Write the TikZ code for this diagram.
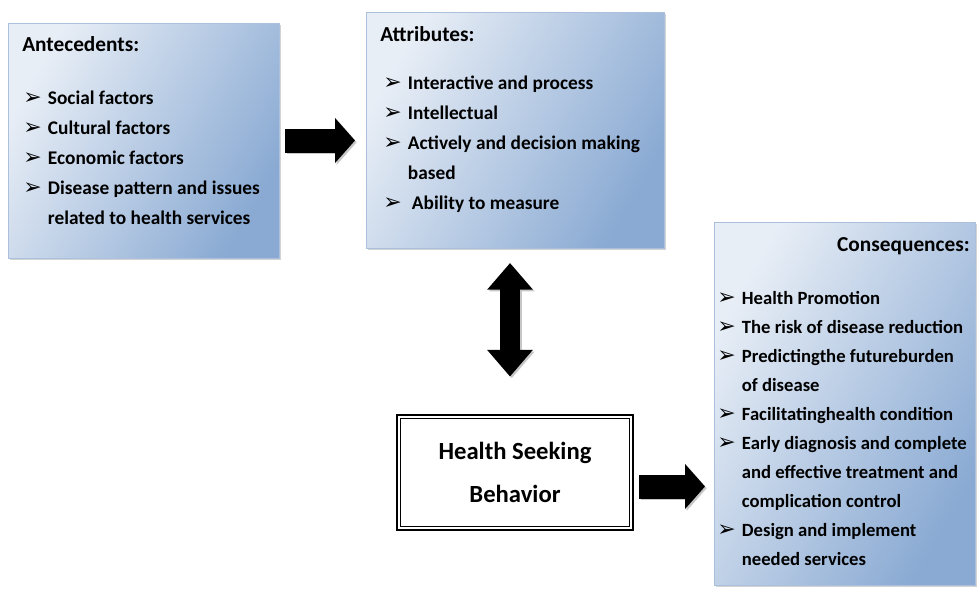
\documentclass[tikz,border=0pt]{standalone}
\usepackage{fontspec}
\setmainfont{Carlito}
\newfontfamily\dingfont{DejaVu Sans}
\usetikzlibrary{positioning,arrows.meta,shadows}

\definecolor{boxlight}{RGB}{232,238,246}
\definecolor{boxdark}{RGB}{138,170,211}
\definecolor{boxedge}{RGB}{170,192,220}

\newcommand{\bul}{{\dingfont\bfseries\fontsize{16.5}{12}\selectfont\char"27A2}}
\newcommand{\itm}{\makebox[18.5pt][l]{\bul}}
\newcommand{\cnt}{\hspace*{18.5pt}}

\begin{document}
\begin{tikzpicture}[x=0.75pt, y=-0.75pt,
    bluebox/.style={draw=boxedge, left color=boxlight, right color=boxdark, shading angle=60,
      drop shadow={shadow xshift=1.2pt, shadow yshift=-1.2pt, opacity=0.35},
      anchor=north west, inner sep=0, outer sep=0},
    head/.style={inner sep=0, font=\fontsize{16}{22.5}\selectfont\bfseries},
    list/.style={align=left, inner sep=0, anchor=north west, font=\fontsize{14.5}{22.5}\selectfont\bfseries},
    fatarrow/.style={line width=18pt, -{Triangle[length=15pt, width=33pt]}},
    bothway/.style={line width=15pt, {Triangle[length=20pt, width=33pt]}-{Triangle[length=20pt, width=33pt]}},
    arrowshadow/.style={draw=black!22, transform canvas={xshift=1.3pt, yshift=-1.3pt}}]
  \useasboundingbox (0,0) rectangle (980,597);

  % Boxes
  \node[bluebox, minimum width=203.25pt, minimum height=176.25pt] (ante) at (8,23) {};
  \node[bluebox, minimum width=223.5pt, minimum height=177pt] (attr) at (366,12) {};
  \node[bluebox, minimum width=195.75pt, minimum height=272.25pt] (cons) at (714,222) {};
  \node[draw, line width=2.2pt, fill=white, minimum width=177pt, minimum height=86.25pt,
    align=center, inner sep=0, font=\fontsize{18.5}{32}\selectfont\bfseries] (hsb) at (515,472.5)
    {Health Seeking\\Behavior};
  \draw[line width=0.8pt] ([shift={(3.4pt,-3.4pt)}]hsb.north west) rectangle ([shift={(-3.4pt,3.4pt)}]hsb.south east);

  % Texts
  \node[head, anchor=base west] (anteHead) at (22,51) {Antecedents:};
  \node[list] (anteList) at (23,91) {\itm Social factors\\ \itm Cultural factors\\ \itm Economic factors\\
    \itm Disease pattern and issues\\ \cnt related to health services};

  \node[head, anchor=base west] (attrHead) at (380,41) {Attributes:};
  \node[list] (attrList) at (383,76) {\itm Interactive and process\\ \itm Intellectual\\
    \itm Actively and decision making\\ \cnt based\\ \itm\hspace{3pt}Ability to measure};

  \node[head, anchor=base east] (consHead) at (970,251) {Consequences:};
  \node[list, font=\fontsize{14}{21.75}\selectfont\bfseries] (consList) at (717,291)
    {\itm Health Promotion\\ \itm The risk of disease reduction\\ \itm Predictingthe futureburden\\
    \cnt of disease\\ \itm Facilitatinghealth condition\\ \itm Early diagnosis and complete\\
    \cnt and effective treatment and\\ \cnt complication control\\ \itm Design and implement\\
    \cnt needed services};

  % Arrows
  \draw[fatarrow, arrowshadow, shorten <=4.5pt, shorten >=8.25pt] (ante.east) -- (ante.east -| attr.west);
  \draw[fatarrow, shorten <=4.5pt, shorten >=8.25pt] (ante.east) -- (ante.east -| attr.west);
  \draw[fatarrow, arrowshadow, shorten <=3.75pt, shorten >=6.75pt] ([yshift=-10.5pt]hsb.east) -- ([yshift=-10.5pt]hsb.east -| cons.west);
  \draw[fatarrow, shorten <=3.75pt, shorten >=6.75pt] ([yshift=-10.5pt]hsb.east) -- ([yshift=-10.5pt]hsb.east -| cons.west);
  \draw[bothway, arrowshadow, shorten <=11.25pt, shorten >=27.75pt] ([xshift=-3.75pt]attr.south) -- ([xshift=-3.75pt]hsb.north);
  \draw[bothway, shorten <=11.25pt, shorten >=27.75pt] ([xshift=-3.75pt]attr.south) -- ([xshift=-3.75pt]hsb.north);
\end{tikzpicture}
\end{document}
